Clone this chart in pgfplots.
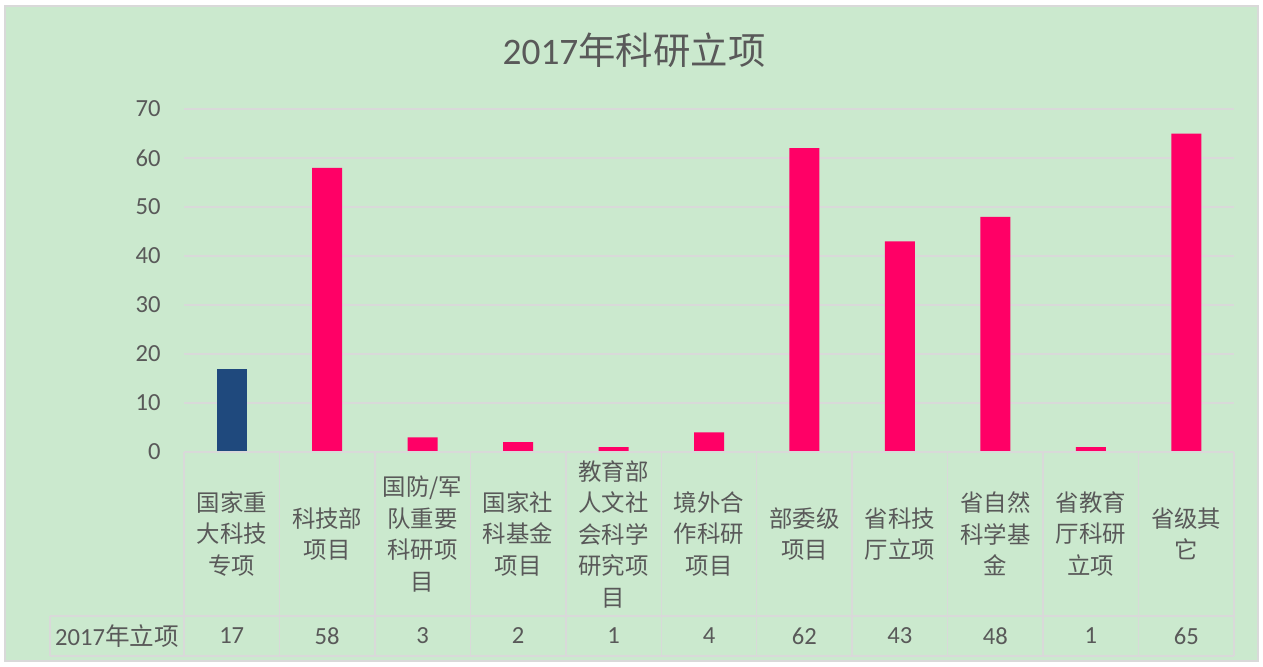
\documentclass[border=0pt]{standalone}
\usepackage{pgfplots}
\usepackage{pgfplotstable}
\pgfplotsset{compat=1.18}
\usepackage{fontspec}
\setmainfont{Carlito}
\newfontfamily\cjk{Noto Sans CJK SC}
\definecolor{bgGreen}{HTML}{CBE9CE}
\definecolor{lineGray}{HTML}{D9D9D9}
\definecolor{txtGray}{HTML}{595959}
\definecolor{barNavy}{HTML}{1F497D}
\definecolor{barPink}{HTML}{FF0066}

% 2017 projects per category
\pgfplotstableread{
x v
0 17
1 58
2 3
3 2
4 1
5 4
6 62
7 43
8 48
9 1
10 65
}\projdata

\begin{document}
\begin{tikzpicture}
\fill[white] (0,0) rectangle (631.5pt,333pt);
\filldraw[fill=bgGreen, draw=lineGray, line width=1pt] (2.5pt,2.5pt) rectangle (629pt,330pt);
\node[txtGray, font=\fontsize{18.7}{22}\selectfont] at (317pt,308pt) {2017{\cjk 年科研立项}};
\begin{axis}[
  at={(92pt,107pt)}, anchor=south west,
  scale only axis, width=525pt, height=171.5pt,
  ymin=0, ymax=70, ytick={0,10,...,70},
  xmin=-0.5, xmax=10.5, xtick={0,...,10},
  xticklabels={
    {国家重\\大科技\\专项},
    {科技部\\项目},
    {国防/军\\队重要\\科研项\\目},
    {国家社\\科基金\\项目},
    {教育部\\人文社\\会科学\\研究项\\目},
    {境外合\\作科研\\项目},
    {部委级\\项目},
    {省科技\\厅立项},
    {省自然\\科学基\\金},
    {省教育\\厅科研\\立项},
    {省级其\\它}},
  xticklabel style={txtGray, anchor=center, yshift=-41pt, align=center,
    font=\cjk\fontsize{11.7}{15.75}\selectfont},
  yticklabel style={txtGray, anchor=east, inner sep=0pt, xshift=-11.5pt,
    font=\fontsize{12.3}{14}\selectfont},
  /pgf/number format/assume math mode=true,
  axis line style={draw=none},
  major tick length=0pt,
  ymajorgrids, grid style={lineGray, line width=0.75pt},
  clip=false,
]
\addplot[ybar, fill=barNavy, draw=none, bar width=15pt, bar shift=0pt,
  restrict x to domain=-0.5:0.5] table[x=x, y=v] {\projdata};
\addplot[ybar, fill=barPink, draw=none, bar width=15pt, bar shift=0pt,
  restrict x to domain=0.5:10.5] table[x=x, y=v] {\projdata};
% data table under the plot
\draw[lineGray, line width=0.75pt] (axis cs:-0.5,0) -- (axis cs:10.5,0);
\draw[lineGray, line width=0.75pt] (axis cs:-1.904,-33.47) -- (axis cs:10.5,-33.47);
\draw[lineGray, line width=0.75pt] (axis cs:-1.904,-41.63) -- (axis cs:10.5,-41.63);
\draw[lineGray, line width=0.75pt] (axis cs:-1.904,-33.47) -- (axis cs:-1.904,-41.63);
\pgfplotsinvokeforeach{0,...,11}{
  \draw[lineGray, line width=0.75pt] (axis cs:#1-0.5,0) -- (axis cs:#1-0.5,-41.63);
}
\node[txtGray, font=\fontsize{12.3}{14}\selectfont] at (axis cs:-1.202,-37.55) {2017{\cjk 年立项}};
\pgfplotsinvokeforeach{0,...,10}{
  \pgfplotstablegetelem{#1}{v}\of\projdata
  \edef\tmp{\noexpand\node[txtGray, font=\noexpand\fontsize{12.3}{14}\noexpand\selectfont] at (axis cs:#1,-37.55) {\pgfplotsretval};}
  \tmp
}
\end{axis}
\end{tikzpicture}
\end{document}
